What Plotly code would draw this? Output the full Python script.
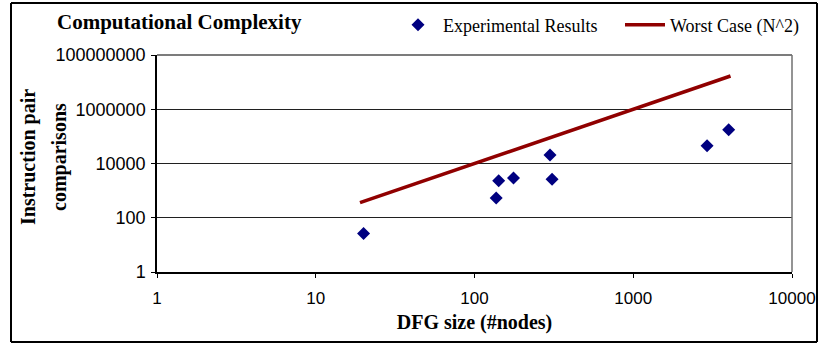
import plotly.graph_objects as go

# Data
dfg_size = [20, 137, 142, 176, 299, 308, 2917, 3993]
comparisons = [26, 530, 2300, 2900, 20400, 2650, 45000, 174000]
worst_x = [19, 20, 137, 142, 176, 299, 308, 2917, 3993, 4100]
worst_y = [361, 400, 18769, 20164, 30976, 89401, 94864, 8508889, 15944049, 16810000]
x_ticks = [1, 10, 100, 1000, 10000]
y_ticks = [1, 100, 10000, 1000000, 100000000]

serif = "Liberation Serif, Times New Roman, serif"
sans = "Liberation Sans, Arial, sans-serif"

fig = go.Figure()
fig.add_trace(go.Scatter(
    x=dfg_size, y=comparisons, mode="markers", name="Experimental Results",
    marker=dict(symbol="diamond", size=10, color="#000080"),
))
fig.add_trace(go.Scatter(
    x=worst_x, y=worst_y, mode="lines", name="Worst Case (N^2)",
    line=dict(color="#900000", width=3.5),
))

# plot area px: left 157, right 792, top 55, bottom 272
L, R, T, B = 157, 792, 55, 272
W, H = R - L, B - T
def px(x):
    return (x - L) / W
def py(y):
    return (B - y) / H

fig.update_layout(
    width=820, height=345,
    margin=dict(l=L, r=820 - R, t=T, b=345 - B, autoexpand=False),
    paper_bgcolor="white", plot_bgcolor="white",
    showlegend=True,
    title=dict(text="<b>Computational Complexity</b>", x=57 / 820, xanchor="left",
               xref="container", y=1 - 22 / 345, yanchor="middle",
               font=dict(family=serif, size=21, color="black")),
    legend=dict(orientation="h", x=px(393), xanchor="left", y=py(25), yanchor="middle",
                font=dict(family=serif, size=18, color="black"),
                bgcolor="rgba(0,0,0,0)", entrywidth=172, itemwidth=40),
    xaxis=dict(type="log", range=[0, 4], tickvals=x_ticks, ticktext=[str(v) for v in x_ticks],
               showgrid=False, ticks="outside", ticklen=4, tickcolor="black",
               showline=True, linecolor="black", linewidth=1.5, mirror=False,
               tickfont=dict(family=sans, size=17, color="black"), ticklabelstandoff=6,
               title=dict(text="<b>DFG size (#nodes)</b>", font=dict(family=serif, size=20, color="black"),
                          standoff=8),
               zeroline=False, automargin=False),
    yaxis=dict(type="log", range=[0, 8], tickvals=y_ticks, ticktext=[str(v) for v in y_ticks],
               showgrid=True, gridcolor="#202020", gridwidth=1,
               ticks="outside", ticklen=4, tickcolor="black",
               showline=True, linecolor="black", linewidth=1.5,
               tickfont=dict(family=sans, size=18, color="black"), ticklabelstandoff=2,
               zeroline=False, automargin=False),
)

# plot area border (top/right gray)
fig.add_shape(type="line", xref="paper", yref="paper", x0=0, x1=1, y0=1, y1=1,
              line=dict(color="#505050", width=1.5))
fig.add_shape(type="line", xref="paper", yref="paper", x0=1, x1=1, y0=0, y1=1,
              line=dict(color="#707070", width=1.5))
# outer chart border (four lines)
bx0, bx1, by0, by1 = px(11), px(817), py(342), py(3)
for (a, b, c, d) in [(bx0, bx1, by0, by0), (bx0, bx1, by1, by1), (bx0, bx0, by0, by1), (bx1, bx1, by0, by1)]:
    fig.add_shape(type="line", xref="paper", yref="paper", x0=a, x1=b, y0=c, y1=d,
                  line=dict(color="black", width=2))

# y axis title, two lines
fig.add_annotation(text="<b>Instruction pair</b>", xref="paper", yref="paper",
                   x=px(28), y=py(157), xanchor="center", yanchor="middle",
                   textangle=-90, showarrow=False,
                   font=dict(family=serif, size=20, color="black"))
fig.add_annotation(text="<b>comparisons</b>", xref="paper", yref="paper",
                   x=px(59), y=py(157), xanchor="center", yanchor="middle",
                   textangle=-90, showarrow=False,
                   font=dict(family=serif, size=20, color="black"))

fig.write_html("out.html", config={"displayModeBar": False},
               post_script="document.body.style.margin='0';")
